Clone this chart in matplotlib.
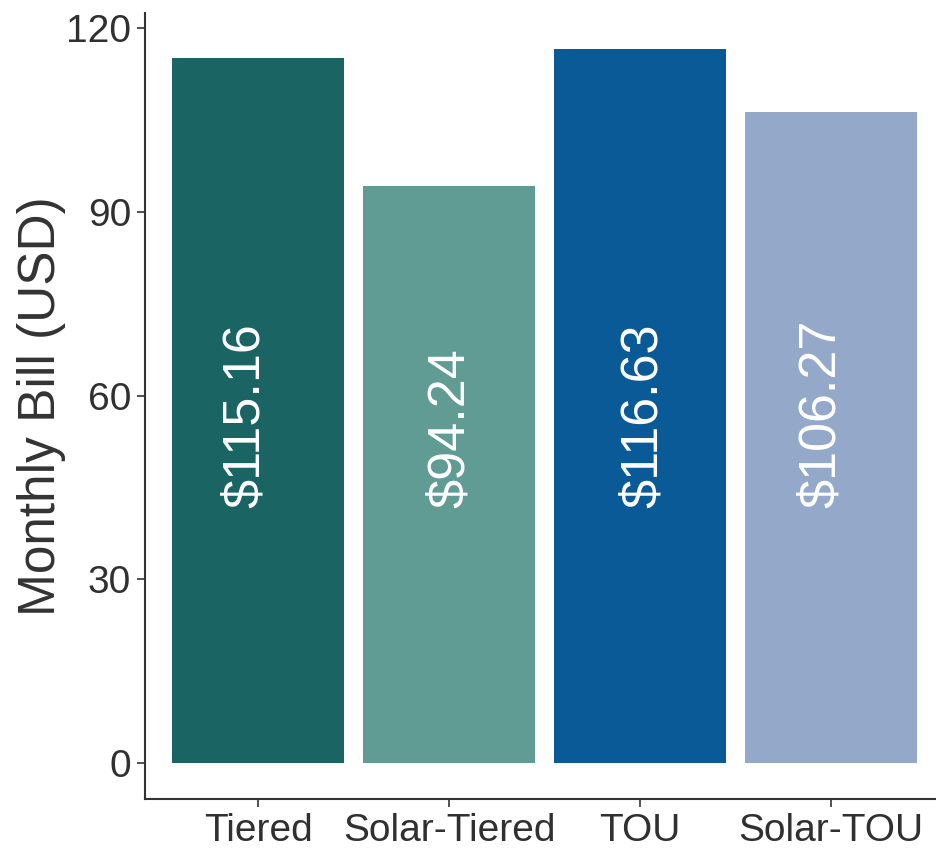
import matplotlib
matplotlib.use("Agg")
import matplotlib.pyplot as plt

# Monthly bill per rate plan
plans = ["Tiered", "Solar-Tiered", "TOU", "Solar-TOU"]
bills = [115.16, 94.24, 116.63, 106.27]
bar_colors = ["#1a6464", "#609c94", "#0b5a98", "#94a8ca"]
y_ticks = [0, 30, 60, 90, 120]

# label placement (style only)
label_y = 41.6
label_nudge = [-0.068, 0.005, 0.02, -0.05]

plt.rcParams["font.family"] = ["Liberation Sans", "DejaVu Sans"]

W, H = 937, 851
fig = plt.figure(figsize=(W / 100, H / 100), dpi=100)
ax = fig.add_axes([145 / W, 1 - 799 / H, 1 - 145 / W, (799 - 13) / H])

xs = list(range(1, len(plans) + 1))
ax.bar(xs, bills, width=0.9, color=bar_colors, edgecolor="none")

for x, v, dx in zip(xs, bills, label_nudge):
    ax.text(x + dx, label_y, f"${v:.2f}", rotation=90, color="white",
            fontsize=37.5, ha="center", va="bottom")

ax.set_xlim(0.408, 4.555)
ax.set_ylim(-5.83, 122.46)
ax.set_xticks(xs)
ax.set_xticklabels(plans)
ax.set_yticks(y_ticks)

for s in ["top", "right"]:
    ax.spines[s].set_visible(False)
for s in ["left", "bottom"]:
    ax.spines[s].set_color("#333333")
    ax.spines[s].set_linewidth(1.5)

ax.tick_params(axis="both", labelsize=28, labelcolor="#303030",
               color="#333333", length=6, width=1.2, pad=4)
ax.set_ylabel("Monthly Bill (USD)", fontsize=37, color="#333333", labelpad=0)

fig.savefig("out.png", dpi=100, facecolor="white")
